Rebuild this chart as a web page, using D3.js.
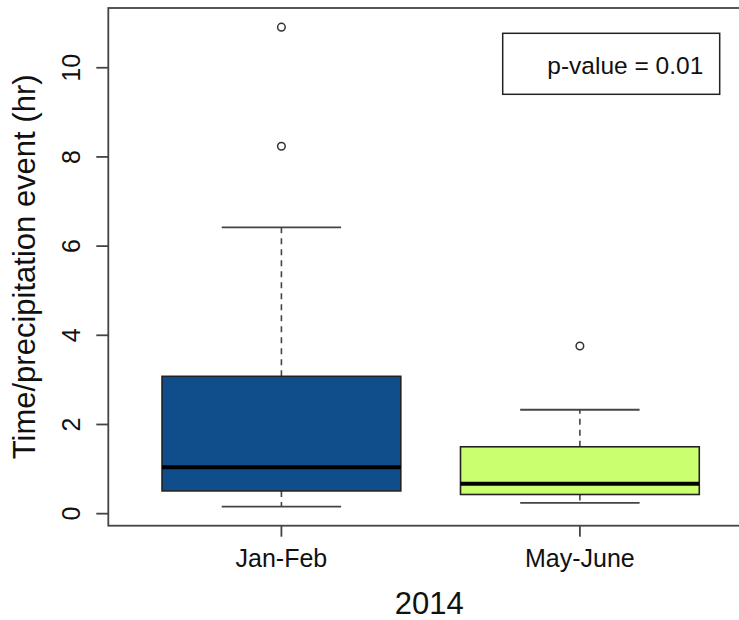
<!DOCTYPE html>
<html>
<head>
<meta charset="utf-8">
<script src="https://d3js.org/d3.v7.min.js"></script>
<style>
  html, body { margin: 0; padding: 0; background: #fff; }
  svg { display: block; font-family: "Liberation Sans", Arial, sans-serif; }
</style>
</head>
<body>
<svg id="chart" width="739" height="620"></svg>
<script>
// Box-plot summaries per period (hours per precipitation event)
const categories = ["Jan-Feb", "May-June"];
const lowerWhisker = [0.16, 0.24];
const lowerQuartile = [0.51, 0.43];
const medians = [1.04, 0.67];
const upperQuartile = [3.08, 1.50];
const upperWhisker = [6.42, 2.33];
const outliers = [[8.24, 10.91], [3.76]];
const fills = ["#104E8B", "#CAFF70"];
const yTicks = [0, 2, 4, 6, 8, 10];
const yTitle = "Time/precipitation event (hr)";
const xTitle = "2014";
const legendText = "p-value = 0.01";

const svg = d3.select("#chart");

const plot = { left: 108.3, right: 753, top: 8, bottom: 525.7 };

// Axis limits extended by 4%, as in base R graphics
const allVals = lowerWhisker.concat(upperWhisker, outliers.flat());
const yMin = d3.min(allVals), yMax = d3.max(allVals);
const pad = (yMax - yMin) * 0.04;
const y = d3.scaleLinear().domain([yMin - pad, yMax + pad]).range([plot.bottom, plot.top]);
const x = d3.scaleLinear().domain([0.42, 2.58]).range([plot.left, plot.right]);

const boxHalf = 0.4, capHalf = 0.2;
const lineCol = "#444";

const groups = svg.append("g").selectAll("g")
  .data(categories.map((c, i) => ({
    c, i, pos: i + 1,
    lo: lowerWhisker[i], q1: lowerQuartile[i], med: medians[i],
    q3: upperQuartile[i], hi: upperWhisker[i], out: outliers[i], fill: fills[i]
  })))
  .join("g");

// Whiskers (dashed) and caps
groups.append("line")
  .attr("x1", d => x(d.pos)).attr("x2", d => x(d.pos))
  .attr("y1", d => y(d.q3)).attr("y2", d => y(d.hi))
  .attr("stroke", lineCol).attr("stroke-width", 1.6).attr("stroke-dasharray", "6,5");
groups.append("line")
  .attr("x1", d => x(d.pos)).attr("x2", d => x(d.pos))
  .attr("y1", d => y(d.q1)).attr("y2", d => y(d.lo))
  .attr("stroke", lineCol).attr("stroke-width", 1.6).attr("stroke-dasharray", "6,5");
groups.append("line")
  .attr("x1", d => x(d.pos - capHalf)).attr("x2", d => x(d.pos + capHalf))
  .attr("y1", d => y(d.hi)).attr("y2", d => y(d.hi))
  .attr("stroke", lineCol).attr("stroke-width", 1.8);
groups.append("line")
  .attr("x1", d => x(d.pos - capHalf)).attr("x2", d => x(d.pos + capHalf))
  .attr("y1", d => y(d.lo)).attr("y2", d => y(d.lo))
  .attr("stroke", lineCol).attr("stroke-width", 1.8);

// Boxes
groups.append("rect")
  .attr("x", d => x(d.pos - boxHalf))
  .attr("width", d => x(d.pos + boxHalf) - x(d.pos - boxHalf))
  .attr("y", d => y(d.q3))
  .attr("height", d => y(d.q1) - y(d.q3))
  .attr("fill", d => d.fill)
  .attr("stroke", "#222").attr("stroke-width", 1.6);

// Medians
groups.append("line")
  .attr("x1", d => x(d.pos - boxHalf)).attr("x2", d => x(d.pos + boxHalf))
  .attr("y1", d => y(d.med)).attr("y2", d => y(d.med))
  .attr("stroke", "#000").attr("stroke-width", 4);

// Outliers
groups.selectAll("circle")
  .data(d => d.out.map(v => ({ pos: d.pos, v })))
  .join("circle")
  .attr("cx", d => x(d.pos)).attr("cy", d => y(d.v))
  .attr("r", 3.8).attr("fill", "none")
  .attr("stroke", "#333").attr("stroke-width", 1.5);

// Plot frame
svg.append("rect")
  .attr("x", plot.left).attr("y", plot.top)
  .attr("width", plot.right - plot.left).attr("height", plot.bottom - plot.top)
  .attr("fill", "none").attr("stroke", lineCol).attr("stroke-width", 1.8);

// Y axis: ticks with labels parallel to the axis
const yAxis = svg.append("g");
yAxis.selectAll("line").data(yTicks).join("line")
  .attr("x1", plot.left - 12).attr("x2", plot.left)
  .attr("y1", d => y(d)).attr("y2", d => y(d))
  .attr("stroke", lineCol).attr("stroke-width", 1.8);
yAxis.selectAll("text").data(yTicks).join("text")
  .attr("transform", d => `translate(80,${y(d)}) rotate(-90)`)
  .attr("text-anchor", "middle")
  .attr("font-size", 25).attr("fill", "#111")
  .text(d => d);

// X axis ticks and category labels
const xAxis = svg.append("g");
xAxis.selectAll("line").data(categories).join("line")
  .attr("x1", (d, i) => x(i + 1)).attr("x2", (d, i) => x(i + 1))
  .attr("y1", plot.bottom).attr("y2", plot.bottom + 11)
  .attr("stroke", lineCol).attr("stroke-width", 1.8);
xAxis.selectAll("text").data(categories).join("text")
  .attr("x", (d, i) => x(i + 1)).attr("y", 566.5)
  .attr("text-anchor", "middle")
  .attr("font-size", 25).attr("fill", "#111")
  .text(d => d);

// Axis titles
svg.append("text")
  .attr("x", (plot.left + plot.right) / 2 - 1.5).attr("y", 614)
  .attr("text-anchor", "middle").attr("font-size", 31).attr("fill", "#111")
  .text(xTitle);
svg.append("text")
  .attr("transform", `translate(35,${(plot.top + plot.bottom) / 2}) rotate(-90)`)
  .attr("text-anchor", "middle").attr("font-size", 31).attr("fill", "#111")
  .text(yTitle);

// Legend box with the test result
const lg = svg.append("g");
lg.append("rect")
  .attr("x", 502.7).attr("y", 33.3).attr("width", 217).attr("height", 61)
  .attr("fill", "#fff").attr("stroke", "#222").attr("stroke-width", 1.5);
lg.append("text")
  .attr("x", 703.3).attr("y", 74)
  .attr("text-anchor", "end").attr("font-size", 24.5).attr("fill", "#111")
  .text(legendText);
</script>
</body>
</html>
